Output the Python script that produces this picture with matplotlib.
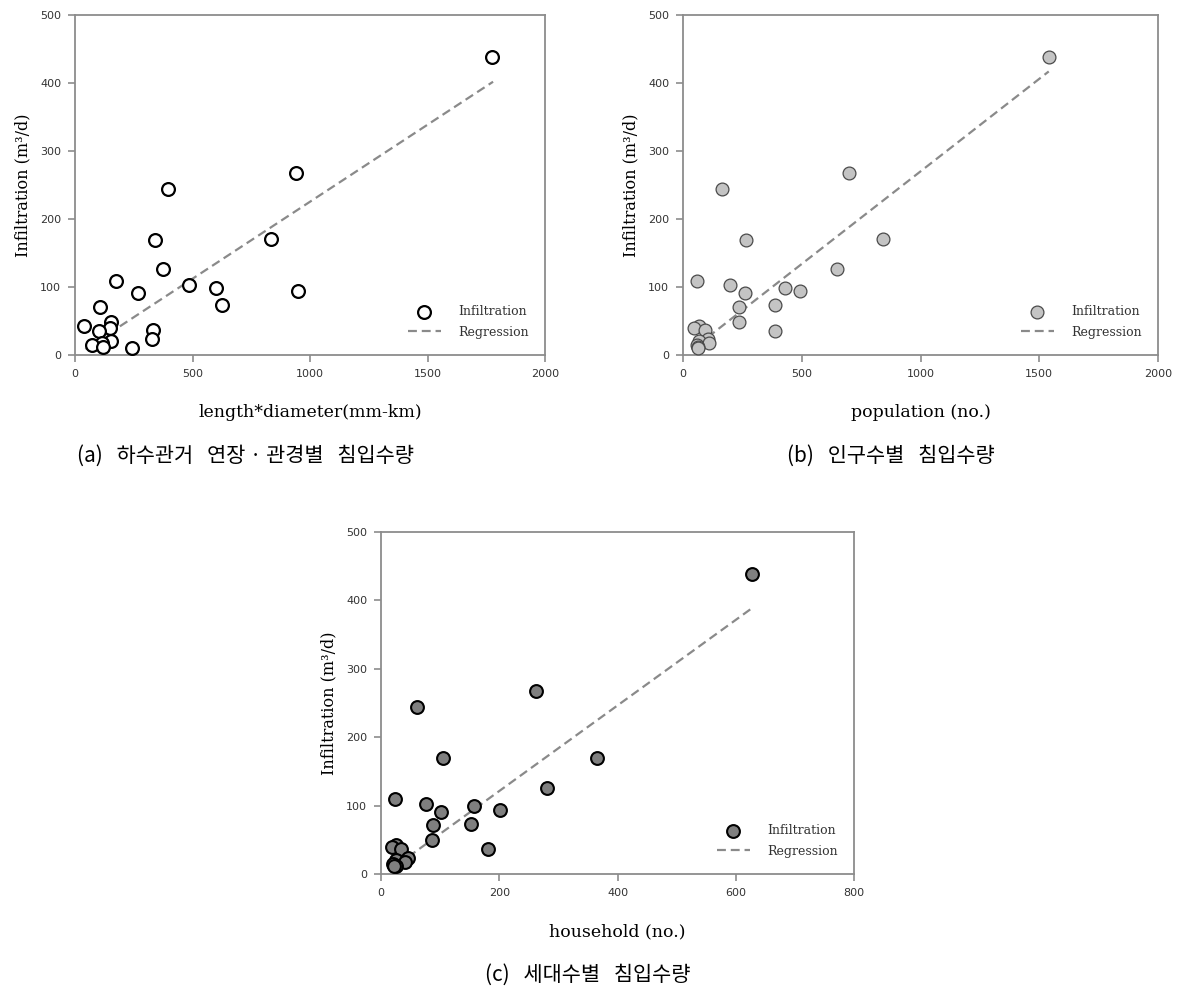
import numpy as np
import matplotlib
matplotlib.use("Agg")
import matplotlib.pyplot as plt

# 침입수량 (m3/d) - 세 그래프 공통
infiltration = [438, 267, 244, 169, 170, 126, 109, 103, 99, 94, 91, 73, 71, 49,
                43, 40, 37, 36, 23, 21, 18, 14, 12, 11]

# (a) 연장*관경 (mm-km)
length_diam = [1775, 940, 396, 340, 836, 373, 175, 483, 598, 948, 269, 624, 106, 153,
               40, 150, 330, 104, 326, 152, 115, 72, 118, 242]
# (b) 인구수
population = [1540, 700, 165, 267, 842, 648, 61, 198, 431, 493, 260, 389, 235, 235,
              66, 47, 91, 387, 104, 66, 110, 60, 63, 65]
# (c) 세대수
household = [628, 262, 61, 105, 366, 281, 24, 76, 157, 202, 101, 153, 88, 86,
             25, 19, 34, 181, 46, 25, 41, 20, 25, 22]

# 회귀선 (기울기, 절편, x 범위)
reg_a = (0.2265, -1.1, [44, 1779])
reg_b = (0.2722, -2.2, [58, 1540])
reg_c = (0.6255, -3.8, [46, 630])

xlabels = ["length*diameter(mm-km)", "population (no.)", "household (no.)"]
captions = ["(a)   하수관거   연장 · 관경별   침입수량",
            "(b)   인구수별   침입수량",
            "(c)   세대수별   침입수량"]

W, H = 1183, 996
fig = plt.figure(figsize=(W / 100, H / 100), dpi=100)

serif = "DejaVu Serif"
korean = ["Noto Sans CJK KR", "DejaVu Sans"]


def ax_rect(l, t, r, b):
    return [l / W, 1 - b / H, (r - l) / W, (b - t) / H]


panels = [
    dict(rect=ax_rect(75, 15, 545, 355), x=length_diam, reg=reg_a, xmax=2000,
         xticks=[0, 500, 1000, 1500, 2000], fc="white", ec="black", lw=1.6),
    dict(rect=ax_rect(683, 15, 1158, 355), x=population, reg=reg_b, xmax=2000,
         xticks=[0, 500, 1000, 1500, 2000], fc="#c4c4c4", ec="#4a4a4a", lw=0.9),
    dict(rect=ax_rect(381, 532, 854, 874), x=household, reg=reg_c, xmax=800,
         xticks=[0, 200, 400, 600, 800], fc="#7f7f7f", ec="black", lw=1.5),
]

for i, p in enumerate(panels):
    ax = fig.add_axes(p["rect"])
    ax.scatter(p["x"], infiltration, s=85, facecolor=p["fc"], edgecolor=p["ec"],
               linewidth=p["lw"], zorder=3, label="Infiltration")
    slope, icpt, xr = p["reg"]
    xr = np.array(xr)
    ax.plot(xr, slope * xr + icpt, color="#8a8a8a", lw=1.6, ls=(0, (4, 2.2)),
            zorder=2, label="Regression")
    ax.set_xlim(0, p["xmax"])
    ax.set_ylim(0, 500)
    ax.set_xticks(p["xticks"])
    ax.set_yticks([0, 100, 200, 300, 400, 500])
    for s in ax.spines.values():
        s.set_color("#8c8c8c")
        s.set_linewidth(1.3)
    ax.tick_params(direction="out", length=5, width=1.2, color="#8c8c8c",
                   labelsize=8, labelcolor="#333333", pad=5)
    ax.set_ylabel("Infiltration (m³/d)", fontfamily=serif, fontsize=11.5, labelpad=6)
    ax.set_xlabel(xlabels[i], fontfamily=serif, fontsize=12.5, labelpad=18)
    ax.legend(loc="lower right", frameon=False, prop={"family": serif, "size": 9},
              labelcolor="#333333", handlelength=2.6, borderaxespad=0.9,
              labelspacing=0.6, handletextpad=1.4)

# 캡션
fig.text(245 / W, 1 - 456 / H, captions[0], fontfamily=korean, fontsize=15,
         ha="center", va="center")
fig.text(891 / W, 1 - 456 / H, captions[1], fontfamily=korean, fontsize=15,
         ha="center", va="center")
fig.text(588 / W, 1 - 975 / H, captions[2], fontfamily=korean, fontsize=15,
         ha="center", va="center")

fig.savefig("out.png", dpi=100, facecolor="white")
